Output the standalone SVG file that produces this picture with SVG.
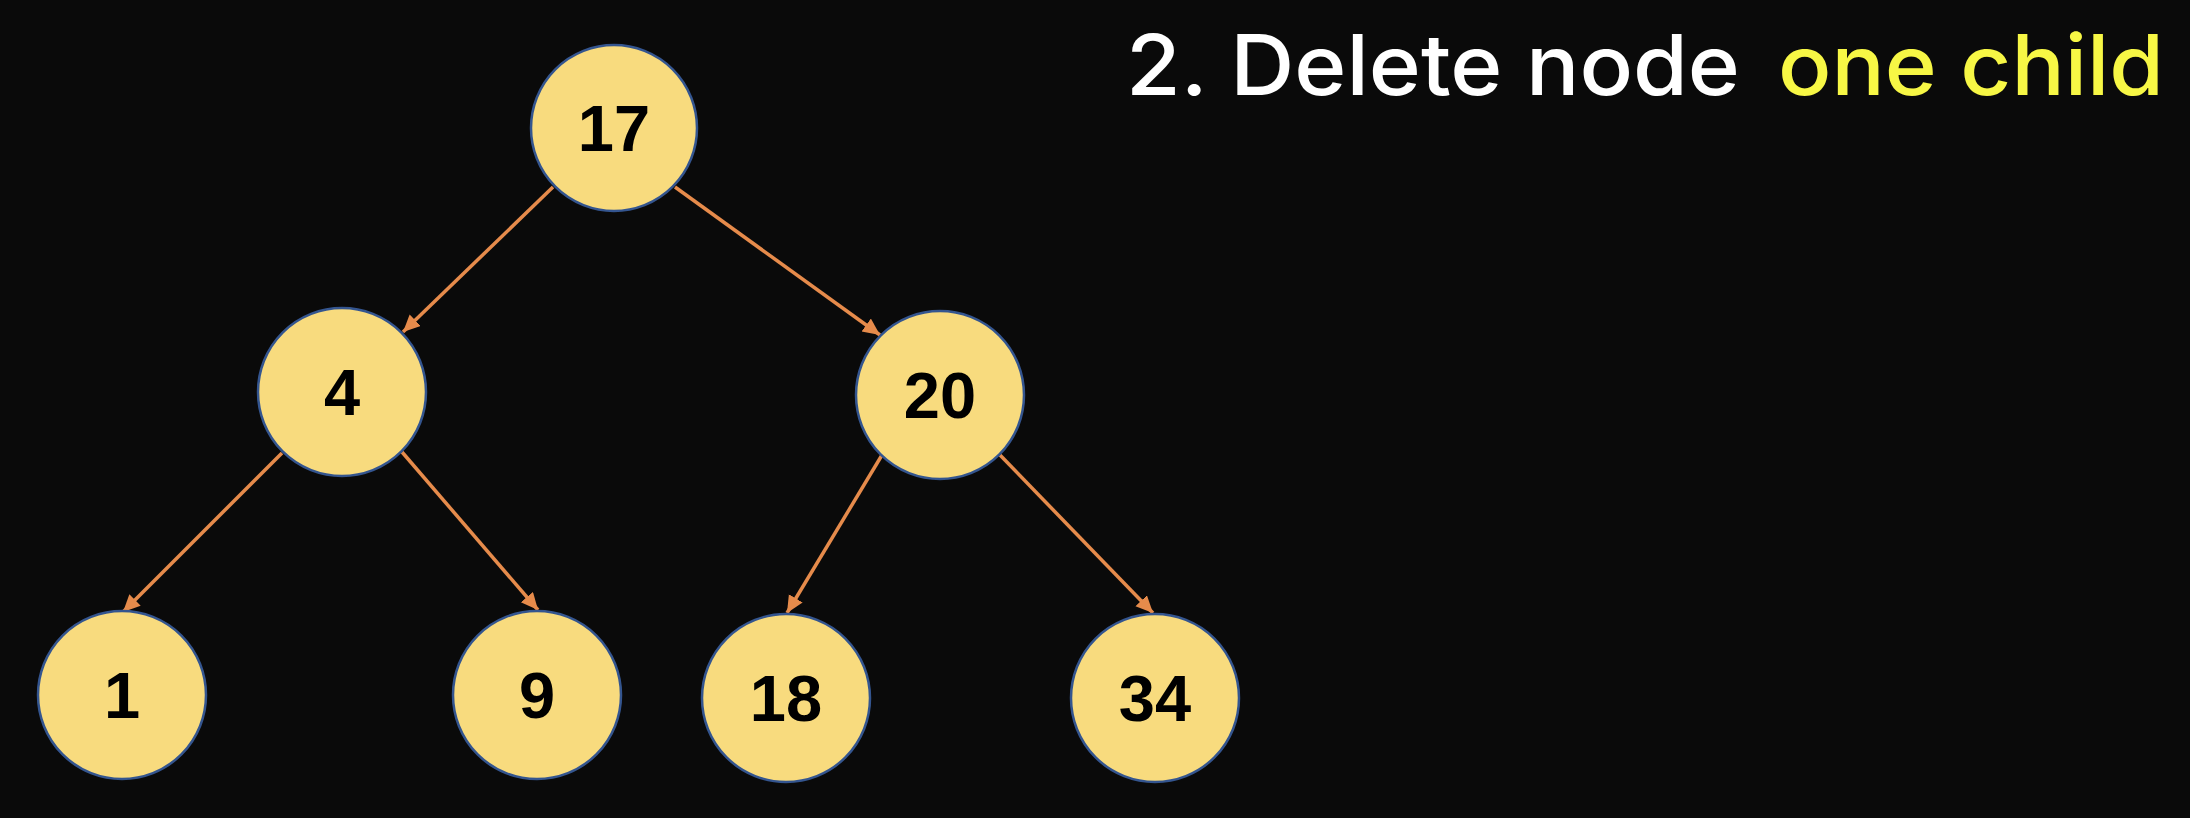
<svg xmlns="http://www.w3.org/2000/svg" width="2190" height="818" viewBox="0 0 2190 818">
  <defs>
    <marker id="arrow" markerUnits="userSpaceOnUse" markerWidth="20" markerHeight="18" refX="17" refY="8" orient="auto">
      <path d="M0,0 L17,8 L0,16 Z" fill="#E68B4B"/>
    </marker>
    <style>
      .node circle { fill: #F8DB7E; stroke: #34558F; stroke-width: 2.5; }
      .node text { font-family: "Liberation Sans", Arial, sans-serif; font-weight: bold; font-size: 65px; fill: #000; text-anchor: middle; }
      .edge { stroke: #E68B4B; stroke-width: 3.5; fill: none; marker-end: url(#arrow); }
      .title { font-family: Inter, "Open Sans", sans-serif; font-size: 84px; font-weight: 500; }
    </style>
  </defs>

  <rect width="2190" height="818" fill="#0A0A0A"/>

  <!-- heading -->
  <text class="title" x="1126" y="95" fill="#FFFFFF" textLength="614" lengthAdjust="spacingAndGlyphs">2. Delete node</text>
  <text class="title" x="1778" y="95" fill="#F7F745" textLength="386" lengthAdjust="spacingAndGlyphs">one child</text>

  <!-- tree connectors -->
  <g id="connectors">
    <line class="edge" x1="553" y1="187" x2="403" y2="332"/>
    <line class="edge" x1="675" y1="187" x2="880" y2="335"/>
    <line class="edge" x1="282" y1="453" x2="123" y2="612"/>
    <line class="edge" x1="402" y1="452" x2="538" y2="610"/>
    <line class="edge" x1="882" y1="455" x2="787" y2="613"/>
    <line class="edge" x1="1000" y1="455" x2="1153" y2="613"/>
  </g>

  <!-- tree nodes -->
  <g id="node-17" class="node">
    <circle cx="614" cy="128" r="83"/>
    <text x="614" y="151">17</text>
  </g>
  <g id="node-4" class="node">
    <circle cx="342" cy="392" r="84"/>
    <text x="342" y="415">4</text>
  </g>
  <g id="node-20" class="node">
    <circle cx="940" cy="395" r="84"/>
    <text x="940" y="418">20</text>
  </g>
  <g id="node-1" class="node">
    <circle cx="122" cy="695" r="84"/>
    <text x="122" y="718">1</text>
  </g>
  <g id="node-9" class="node">
    <circle cx="537" cy="695" r="84"/>
    <text x="537" y="718">9</text>
  </g>
  <g id="node-18" class="node">
    <circle cx="786" cy="698" r="84"/>
    <text x="786" y="721">18</text>
  </g>
  <g id="node-34" class="node">
    <circle cx="1155" cy="698" r="84"/>
    <text x="1155" y="721">34</text>
  </g>
</svg>
